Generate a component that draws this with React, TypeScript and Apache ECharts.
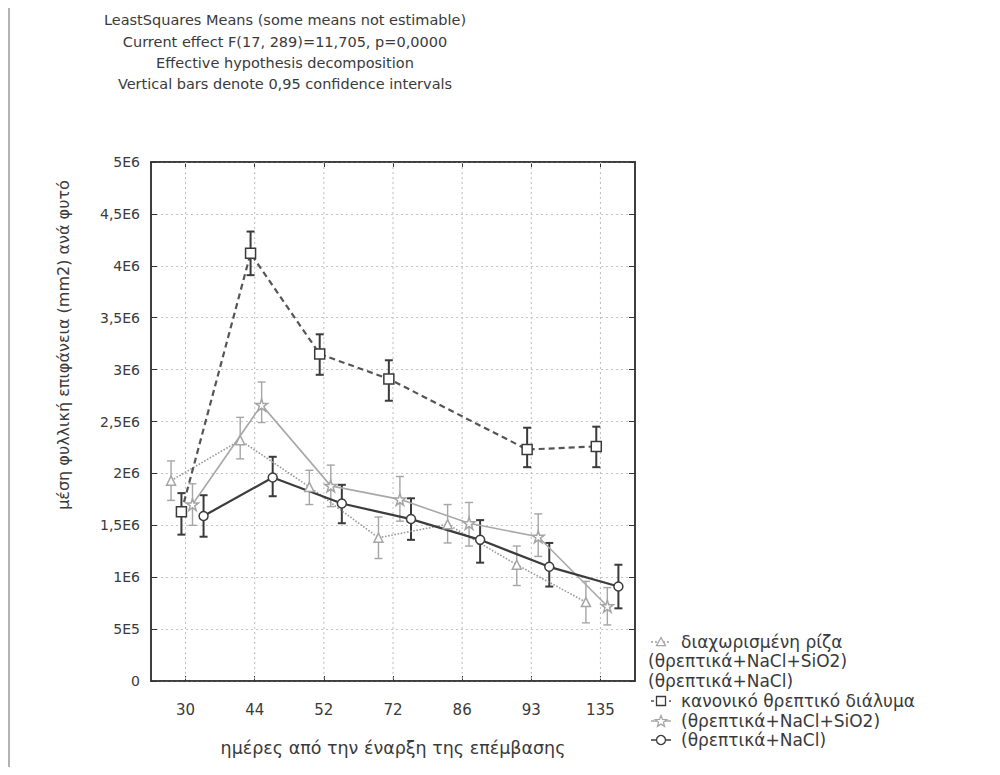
import React, { useEffect, useRef } from 'react';
import * as echarts from 'echarts';

// ---------- data ----------
const categories = ['30', '44', '52', '72', '86', '93', '135'];
const yTickLabels = ['0', '5E5', '1E6', '1,5E6', '2E6', '2,5E6', '3E6', '3,5E6', '4E6', '4,5E6', '5E6'];

const titleLines = [
  'LeastSquares Means (some means not estimable)',
  'Current effect F(17, 289)=11,705, p=0,0000',
  'Effective hypothesis decomposition',
  'Vertical bars denote 0,95 confidence intervals',
];
const yAxisTitle = 'μέση φυλλική επιφάνεια (mm2) ανά φυτό';
const xAxisTitle = 'ημέρες από την έναρξη της επέμβασης';

const seriesNames = [
  'διαχωρισμένη ρίζα',
  'κανονικό θρεπτικό διάλυμα',
  '(θρεπτικά+NaCl+SiO2)',
  '(θρεπτικά+NaCl)',
];
const legendSubLines = ['(θρεπτικά+NaCl+SiO2)', '(θρεπτικά+NaCl)'];

// values in mm2 (means and 0.95 confidence limits)
const triMean = [1.93e6, 2.32e6, 1.87e6, 1.38e6, 1.51e6, 1.12e6, 0.76e6];
const triLow = [1.74e6, 2.14e6, 1.70e6, 1.18e6, 1.33e6, 0.92e6, 0.56e6];
const triHigh = [2.12e6, 2.54e6, 2.03e6, 1.58e6, 1.70e6, 1.30e6, 0.96e6];

const sqMean = [1.63e6, 4.12e6, 3.15e6, 2.91e6, null, 2.23e6, 2.26e6];
const sqLow = [1.41e6, 3.91e6, 2.95e6, 2.70e6, null, 2.06e6, 2.06e6];
const sqHigh = [1.81e6, 4.33e6, 3.34e6, 3.09e6, null, 2.44e6, 2.45e6];

const starMean = [1.70e6, 2.66e6, 1.88e6, 1.75e6, 1.52e6, 1.39e6, 0.72e6];
const starLow = [1.50e6, 2.49e6, 1.68e6, 1.54e6, 1.30e6, 1.20e6, 0.54e6];
const starHigh = [1.90e6, 2.88e6, 2.08e6, 1.97e6, 1.72e6, 1.61e6, 0.90e6];

const circMean = [1.59e6, 1.96e6, 1.71e6, 1.56e6, 1.36e6, 1.10e6, 0.91e6];
const circLow = [1.39e6, 1.78e6, 1.52e6, 1.36e6, 1.14e6, 0.91e6, 0.70e6];
const circHigh = [1.79e6, 2.16e6, 1.89e6, 1.76e6, 1.55e6, 1.33e6, 1.12e6];

// ---------- styles ----------
const FONT = '"DejaVu Sans", "Liberation Sans", Arial, sans-serif';
const STAR = 'path://M50,2 L61,36 L97,36 L68,57 L79,92 L50,71 L21,92 L32,57 L3,36 L39,36 Z';
const GRID = { left: 151, top: 162, width: 484, height: 519 };
const TEXT_COLOR = '#3a3a3a';

const seriesStyle = [
  { offset: -0.21, color: '#9a9a9a', lineType: 'dotted' as any, lineWidth: 1.6, symbol: 'triangle', size: 9, barColor: '#a5a5a5', barWidth: 1.4 },
  { offset: -0.06, color: '#555555', lineType: [6, 4] as any, lineWidth: 2.2, symbol: 'rect', size: 10, barColor: '#3a3a3a', barWidth: 2 },
  { offset: 0.1, color: '#a8a8a8', lineType: 'solid' as any, lineWidth: 1.6, symbol: STAR, size: 12, barColor: '#a5a5a5', barWidth: 1.4 },
  { offset: 0.26, color: '#3c3c3c', lineType: 'solid' as any, lineWidth: 2.2, symbol: 'circle', size: 9, barColor: '#3a3a3a', barWidth: 2 },
];

const seriesData = [
  { mean: triMean, low: triLow, high: triHigh },
  { mean: sqMean, low: sqLow, high: sqHigh },
  { mean: starMean, low: starLow, high: starHigh },
  { mean: circMean, low: circLow, high: circHigh },
];

function buildOption() {
  const series: any[] = [];

  // vertical dotted grid lines at category centres
  series.push({
    type: 'custom',
    xAxisIndex: 1,
    yAxisIndex: 0,
    silent: true,
    z: 1,
    data: categories.map((_, i) => [i, 0]),
    encode: { x: 0, y: 1 },
    renderItem: (params: any, api: any) => {
      const cs = params.coordSys;
      const x = api.coord([api.value(0), 0])[0];
      return {
        type: 'line',
        shape: { x1: x, y1: cs.y, x2: x, y2: cs.y + cs.height },
        style: { stroke: '#bdbdbd', lineDash: [2, 3], lineWidth: 1 },
      };
    },
  });

  seriesData.forEach((d, si) => {
    const st = seriesStyle[si];
    const bars = categories
      .map((_, i) => (d.mean[i] == null ? null : [i + st.offset, d.low[i], d.high[i]]))
      .filter((v) => v != null);
    series.push({
      type: 'custom',
      xAxisIndex: 1,
      yAxisIndex: 0,
      silent: true,
      z: 2,
      data: bars,
      encode: { x: 0, y: [1, 2] },
      renderItem: (params: any, api: any) => {
        const x = api.value(0);
        const lo = api.coord([x, api.value(1)]);
        const hi = api.coord([x, api.value(2)]);
        const w = 4;
        const style = { stroke: st.barColor, lineWidth: st.barWidth };
        return {
          type: 'group',
          children: [
            { type: 'line', shape: { x1: lo[0], y1: lo[1], x2: hi[0], y2: hi[1] }, style },
            { type: 'line', shape: { x1: lo[0] - w, y1: lo[1], x2: lo[0] + w, y2: lo[1] }, style },
            { type: 'line', shape: { x1: hi[0] - w, y1: hi[1], x2: hi[0] + w, y2: hi[1] }, style },
          ],
        };
      },
    });
    const pts = categories
      .map((_, i) => (d.mean[i] == null ? null : [i + st.offset, d.mean[i]]))
      .filter((v) => v != null);
    series.push({
      type: 'line',
      name: seriesNames[si],
      xAxisIndex: 1,
      yAxisIndex: 0,
      z: 3,
      data: pts,
      symbol: st.symbol,
      symbolSize: st.size,
      showAllSymbol: true,
      lineStyle: { color: st.color, type: st.lineType, width: st.lineWidth },
      itemStyle: { color: '#ffffff', borderColor: st.barColor, borderWidth: 1.5 },
    });
  });

  // legend (graphic)
  const legendX = 648;
  const symX = 661;
  const textX = 681;
  const rowY = [642, 661, 681, 701, 721, 740];
  const LFONT = `17px ${FONT}`;
  const graphic: any[] = [];
  const legendRows = [
    { si: 0, y: rowY[0] },
    { si: 1, y: rowY[3] },
    { si: 2, y: rowY[4] },
    { si: 3, y: rowY[5] },
  ];
  legendRows.forEach(({ si, y }) => {
    const st = seriesStyle[si];
    graphic.push({
      type: 'line',
      shape: { x1: symX - 10, y1: y, x2: symX + 10, y2: y },
      style: { stroke: st.color, lineWidth: 1.5, lineDash: si === 0 ? [2, 2] : si === 1 ? [3, 3] : null },
    });
    const s = 4.5;
    let shape: any;
    if (si === 0) {
      shape = { type: 'polygon', shape: { points: [[symX, y - s], [symX + s, y + s * 0.8], [symX - s, y + s * 0.8]] } };
    } else if (si === 1) {
      shape = { type: 'rect', shape: { x: symX - s, y: y - s, width: 2 * s, height: 2 * s } };
    } else if (si === 2) {
      const pts: number[][] = [];
      for (let k = 0; k < 10; k++) {
        const r = k % 2 === 0 ? 6 : 2.6;
        const a = -Math.PI / 2 + (k * Math.PI) / 5;
        pts.push([symX + r * Math.cos(a), y + 0.5 + r * Math.sin(a)]);
      }
      shape = { type: 'polygon', shape: { points: pts } };
    } else {
      shape = { type: 'circle', shape: { cx: symX, cy: y, r: s } };
    }
    shape.style = { fill: '#fff', stroke: st.barColor, lineWidth: 1.3 };
    graphic.push(shape);
    graphic.push({
      type: 'text',
      x: textX,
      y,
      style: { text: seriesNames[si], font: LFONT, fill: TEXT_COLOR, textVerticalAlign: 'middle' },
    });
  });
  legendSubLines.forEach((t, k) => {
    graphic.push({
      type: 'text',
      x: legendX,
      y: rowY[1 + k],
      style: { text: t, font: LFONT, fill: TEXT_COLOR, textVerticalAlign: 'middle' },
    });
  });

  // titles
  const titleY = [20, 42, 63, 84];
  titleLines.forEach((t, k) => {
    graphic.push({
      type: 'text',
      x: 285,
      y: titleY[k],
      style: { text: t, font: `14.5px ${FONT}`, fill: TEXT_COLOR, textAlign: 'center', textVerticalAlign: 'middle' },
    });
  });

  // axis titles
  graphic.push({
    type: 'text',
    x: 63,
    y: 345,
    rotation: Math.PI / 2,
    style: { text: yAxisTitle, font: `16px ${FONT}`, fill: TEXT_COLOR, textAlign: 'center', textVerticalAlign: 'middle' },
  });
  graphic.push({
    type: 'text',
    x: GRID.left + GRID.width / 2,
    y: 748,
    style: { text: xAxisTitle, font: `17.5px ${FONT}`, fill: TEXT_COLOR, textAlign: 'center', textVerticalAlign: 'middle' },
  });

  // outer frame
  graphic.push({ type: 'line', silent: true, shape: { x1: 5, y1: 5, x2: 994, y2: 5 }, style: { stroke: '#555', lineWidth: 1.5 } });
  graphic.push({ type: 'line', silent: true, shape: { x1: 5, y1: 768, x2: 994, y2: 768 }, style: { stroke: '#555', lineWidth: 1.5 } });
  graphic.push({ type: 'line', silent: true, shape: { x1: 5, y1: 5, x2: 5, y2: 768 }, style: { stroke: '#555', lineWidth: 1.5 } });
  graphic.push({ type: 'line', silent: true, shape: { x1: 9, y1: 5, x2: 9, y2: 768 }, style: { stroke: '#666', lineWidth: 1 } });
  graphic.push({ type: 'line', silent: true, shape: { x1: 994, y1: 5, x2: 994, y2: 768 }, style: { stroke: '#888', lineWidth: 1 } });

  return {
    animation: false,
    backgroundColor: '#ffffff',
    textStyle: { fontFamily: FONT },
    grid: { ...GRID, show: true, borderColor: '#333', borderWidth: 1.5, backgroundColor: 'transparent' },
    xAxis: [
      {
        type: 'category',
        data: categories,
        position: 'bottom',
        boundaryGap: true,
        axisLine: { show: true, onZero: false, lineStyle: { color: '#333', width: 1.5 } },
        axisTick: { show: true, alignWithLabel: true, inside: true, length: 5, lineStyle: { color: '#333' } },
        axisLabel: { margin: 21, fontSize: 15, color: TEXT_COLOR, fontFamily: FONT },
        splitLine: { show: false },
      },
      {
        type: 'value',
        min: -0.5,
        max: 6.5,
        show: false,
        axisLine: { onZero: false },
        splitLine: { show: false },
      },
      {
        type: 'category',
        data: categories,
        position: 'top',
        boundaryGap: true,
        axisLine: { show: true, onZero: false, lineStyle: { color: '#333', width: 1.5 } },
        axisTick: { show: true, alignWithLabel: true, inside: true, length: 5, lineStyle: { color: '#333' } },
        axisLabel: { show: false },
        splitLine: { show: false },
      },
    ],
    yAxis: [
      {
        type: 'value',
        min: 0,
        max: 5e6,
        interval: 5e5,
        axisLine: { show: true, onZero: false, lineStyle: { color: '#333', width: 1.5 } },
        axisTick: { show: true, inside: true, length: 6, lineStyle: { color: '#333' } },
        axisLabel: {
          margin: 11,
          fontSize: 14,
          color: TEXT_COLOR,
          fontFamily: FONT,
          formatter: (v: number) => yTickLabels[Math.round(v / 5e5)] ?? '',
        },
        splitLine: { show: true, lineStyle: { color: '#c4c4c4', type: [2, 3], width: 1 } },
      },
      {
        type: 'value',
        min: 0,
        max: 5e6,
        interval: 5e5,
        position: 'right',
        axisLine: { show: true, onZero: false, lineStyle: { color: '#333', width: 1.5 } },
        axisTick: { show: true, inside: true, length: 6, lineStyle: { color: '#333' } },
        axisLabel: { show: false },
        splitLine: { show: false },
      },
    ],
    series,
    graphic,
  };
}

export default function App() {
  const ref = useRef<HTMLDivElement>(null);
  useEffect(() => {
    if (!ref.current) return;
    const chart = echarts.init(ref.current, null, { renderer: 'svg' });
    chart.setOption(buildOption() as any);
    return () => chart.dispose();
  }, []);
  return <div ref={ref} style={{ width: 1000, height: 775, margin: -8 }} />;
}
